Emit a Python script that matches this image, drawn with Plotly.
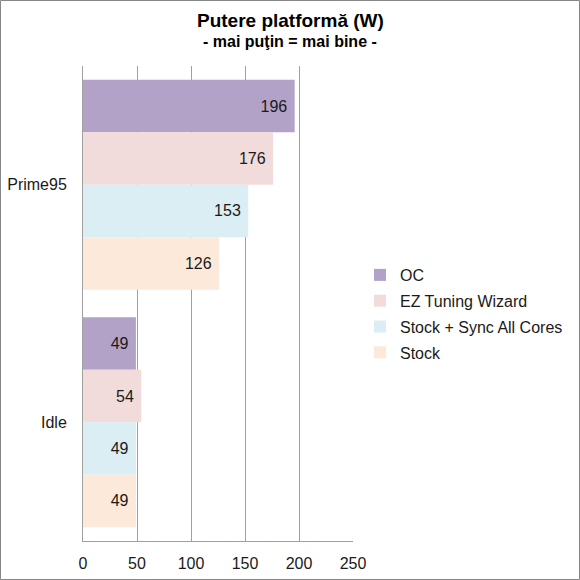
import plotly.graph_objects as go

# chart data
categories = ["Prime95", "Idle"]
series_names = ["OC", "EZ Tuning Wizard", "Stock + Sync All Cores", "Stock"]
oc = [196, 49]
ez_tuning = [176, 54]
sync_all = [153, 49]
stock = [126, 49]
x_ticks = [0, 50, 100, 150, 200, 250]

colors = ["#b3a2c7", "#f2dcdb", "#dbeef4", "#fde9d9"]
FONT = "Liberation Sans, Arial, sans-serif"

W, H = 580, 580
L, R, T, B = 83, 227, 66, 39
pw, ph = W - L - R, H - T - B


def px_x(p):
    return (p - L) / pw


def px_y(p):
    return (H - B - p) / ph


fig = go.Figure()
for name, vals, color in zip(series_names, [oc, ez_tuning, sync_all, stock], colors):
    fig.add_trace(
        go.Bar(
            y=categories,
            x=vals,
            name=name,
            legendgroup=name,
            orientation="h",
            marker=dict(color=color, line=dict(width=0)),
            text=[f"{v}\u00a0" for v in vals],
            textposition="inside",
            insidetextanchor="end",
            textangle=0,
            constraintext="none",
            textfont=dict(family=FONT, size=16, color="#1a1a1a"),
            hoverinfo="skip",
        )
    )

# outer frame of the picture
fig.add_shape(
    type="rect", xref="paper", yref="paper",
    x0=px_x(0.5), x1=px_x(W - 0.5), y0=px_y(0.5), y1=px_y(H - 0.5),
    line=dict(color="#868686", width=1), layer="below",
)

# title + subtitle
fig.add_annotation(
    text="<b>Putere platformă (W)</b>", xref="paper", yref="paper",
    x=px_x(290), y=px_y(21), xanchor="center", yanchor="middle",
    showarrow=False, font=dict(family=FONT, size=19, color="#000000"),
)
fig.add_annotation(
    text="<b>- mai puţin = mai bine -</b>", xref="paper", yref="paper",
    x=px_x(290), y=px_y(42), xanchor="center", yanchor="middle",
    showarrow=False, font=dict(family=FONT, size=16, color="#000000"),
)

fig.update_layout(
    width=W, height=H,
    margin=dict(l=L, r=R, t=T, b=B, pad=0, autoexpand=False),
    paper_bgcolor="white",
    plot_bgcolor="white",
    barmode="group",
    bargap=0.116,
    bargroupgap=0,
    font=dict(family=FONT, size=16, color="#1a1a1a"),
    legend=dict(
        x=px_x(360), xanchor="left",
        y=px_y(314), yanchor="middle",
        font=dict(family=FONT, size=16, color="#1a1a1a"),
        itemwidth=30,
        tracegroupgap=2,
    ),
    showlegend=True,
)

fig.update_xaxes(
    range=[0, 250],
    tickvals=x_ticks,
    showgrid=True, gridcolor="#a0a0a0", gridwidth=1,
    showline=True, linecolor="#a0a0a0", linewidth=1,
    zeroline=False,
    ticks="", ticklabelstandoff=8,
    tickfont=dict(family=FONT, size=16, color="#1a1a1a"),
    fixedrange=True,
)
fig.update_yaxes(
    autorange="reversed",
    showline=True, linecolor="#a0a0a0", linewidth=1,
    showgrid=False,
    ticks="", ticklabelstandoff=12,
    tickfont=dict(family=FONT, size=16, color="#1a1a1a"),
    fixedrange=True,
)

fig.write_html("out.html", config={"displayModeBar": False},
               post_script="document.body.style.margin='0';")
